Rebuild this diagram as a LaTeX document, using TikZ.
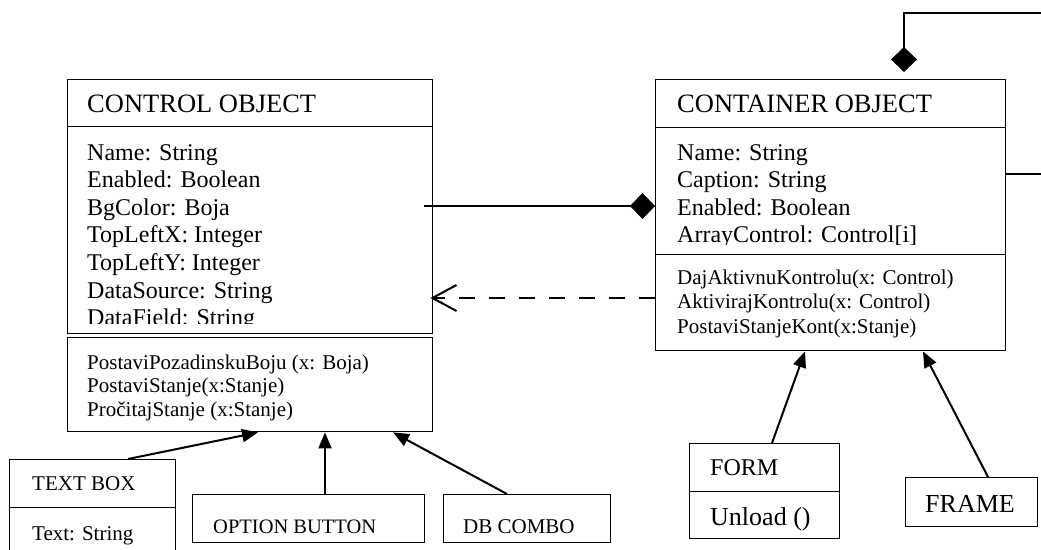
\documentclass[tikz,border=0pt]{standalone}
\usepackage{fontspec}
\setmainfont{Liberation Serif}
\usetikzlibrary{arrows.meta,calc}
\tikzset{
  box/.style={draw=black, line width=1.4pt, inner sep=0pt, anchor=north west},
  txt/.style={anchor=base west, inner sep=0pt, text=black},
  conn/.style={draw=black, line width=2pt},
  gen/.style={conn, -{Triangle[length=16pt,width=13pt]}},
  comp/.style={conn, -{Diamond[length=25pt,width=26pt]}},
  dep/.style={conn, dash pattern=on 16pt off 14pt, -{Straight Barb[length=24pt,width=26pt]}},
  ftitle/.style={font=\fontsize{26.5}{30}\selectfont},
  fattr/.style={font=\fontsize{24}{28}\selectfont},
  fops/.style={font=\fontsize{21}{24}\selectfont}
}
\begin{document}
\begin{tikzpicture}[x=1pt,y=-1pt]
\useasboundingbox[fill=white] (0,0) rectangle (1041,549);
\begin{scope}
\clip (0,0) rectangle (1041,549);
% class boxes
\node[box, minimum width=365pt, minimum height=47pt] (ctrlHead) at (67,79) {};
\node[box, minimum width=365pt, minimum height=207pt] (ctrlAttr) at (67,126) {};
\node[box, minimum width=365pt, minimum height=94pt] (ctrlOps) at (67,337) {};
\node[box, minimum width=350pt, minimum height=48pt] (contHead) at (655,79) {};
\node[box, minimum width=350pt, minimum height=127pt] (contAttr) at (655,127) {};
\node[box, minimum width=350pt, minimum height=96pt] (contOps) at (655,254) {};
\node[box, minimum width=166pt, minimum height=48pt] (tbHead) at (9,459) {};
\node[box, minimum width=166pt, minimum height=60pt] (tbAttr) at (9,507) {};
\node[box, minimum width=232pt, minimum height=48pt] (optBox) at (192,494) {};
\node[box, minimum width=167pt, minimum height=48pt] (dbBox) at (443,494) {};
\node[box, minimum width=150pt, minimum height=48pt] (formHead) at (689,443) {};
\node[box, minimum width=150pt, minimum height=47pt] (formOps) at (689,491) {};
\node[box, minimum width=132pt, minimum height=49pt] (frameBox) at (905,477) {};
% texts
\node[txt, ftitle] (ctrlTitle) at (87,112) {CONTROL OBJECT};
\begin{scope}
\clip (67,126) rectangle (432,323);
\foreach \t [count=\i] in {Name: String, Enabled: Boolean, BgColor: Boja, TopLeftX: Integer, TopLeftY: Integer, DataSource: String, DataField: String}
  \node[txt, fattr] (ctrlA\i) at (87,{160+27.6*(\i-1)}) {\t};
\end{scope}
\foreach \t [count=\i] in {PostaviPozadinskuBoju (x: Boja), PostaviStanje(x:Stanje), PročitajStanje (x:Stanje)}
  \node[txt, fops] (ctrlO\i) at (87,{369+23.5*(\i-1)}) {\t};
\node[txt, ftitle] (contTitle) at (677,112) {CONTAINER OBJECT};
\begin{scope}
\clip (655,127) rectangle (1005,244);
\foreach \t [count=\i] in {Name: String, Caption: String, Enabled: Boolean, ArrayControl: Control[i]}
  \node[txt, fattr] (contA\i) at (677,{160+27.6*(\i-1)}) {\t};
\end{scope}
\foreach \t [count=\i] in {DajAktivnuKontrolu(x: Control), AktivirajKontrolu(x: Control), PostaviStanjeKont(x:Stanje)}
  \node[txt, fops] (contO\i) at (677,{284+24.5*(\i-1)}) {\t};
\node[txt, font=\fontsize{21}{24}\selectfont] (tbTitle) at (32,490) {TEXT BOX};
\node[txt, font=\fontsize{21}{24}\selectfont] (tbText) at (32,540) {Text: String};
\node[txt, font=\fontsize{20.5}{24}\selectfont] (optText) at (213,533) {OPTION BUTTON};
\node[txt, font=\fontsize{21}{24}\selectfont] (dbText) at (463,533) {DB COMBO};
\node[txt, font=\fontsize{24}{28}\selectfont] (formTitle) at (710,475) {FORM};
\node[txt, font=\fontsize{26}{28}\selectfont] (formText) at (710,525) {Unload ()};
\node[txt, font=\fontsize{26}{30}\selectfont] (frameText) at (925,512) {FRAME};
% connectors
\coordinate (compStart) at ($(ctrlAttr.north east)+(-9,80)$);
\draw[comp] (compStart) -- (compStart -| contAttr.west);
\coordinate (depStart) at ($(contOps.north west)+(0,44)$);
\draw[dep] (depStart) -- ($(depStart -| ctrlAttr.east)+(-3,0)$);
\draw[gen] ($(tbHead.north west)+(119,0)$) -- ($(ctrlOps.south west)+(191,0)$);
\draw[gen] ($(optBox.north west)+(133,0)$) -- ($(ctrlOps.south west)+(258,0)$);
\draw[gen] ($(dbBox.north west)+(64,0)$) -- ($(ctrlOps.south west)+(326,0)$);
\draw[gen] ($(formHead.north west)+(83,0)$) -- ($(contOps.south west)+(150,0)$);
\draw[gen] ($(frameBox.north west)+(83,0)$) -- ($(contOps.south west)+(268,0)$);
\coordinate (loopStart) at ($(contHead.north west)+(249,-7)$);
\coordinate (loopTop) at (1070,13);
\coordinate (loopEnd) at ($(contAttr.north east)+(0,47)$);
\draw[conn, {Diamond[length=25pt,width=26pt]}-] (loopStart) |- (loopTop) |- (loopEnd);
\end{scope}
\end{tikzpicture}
\end{document}
